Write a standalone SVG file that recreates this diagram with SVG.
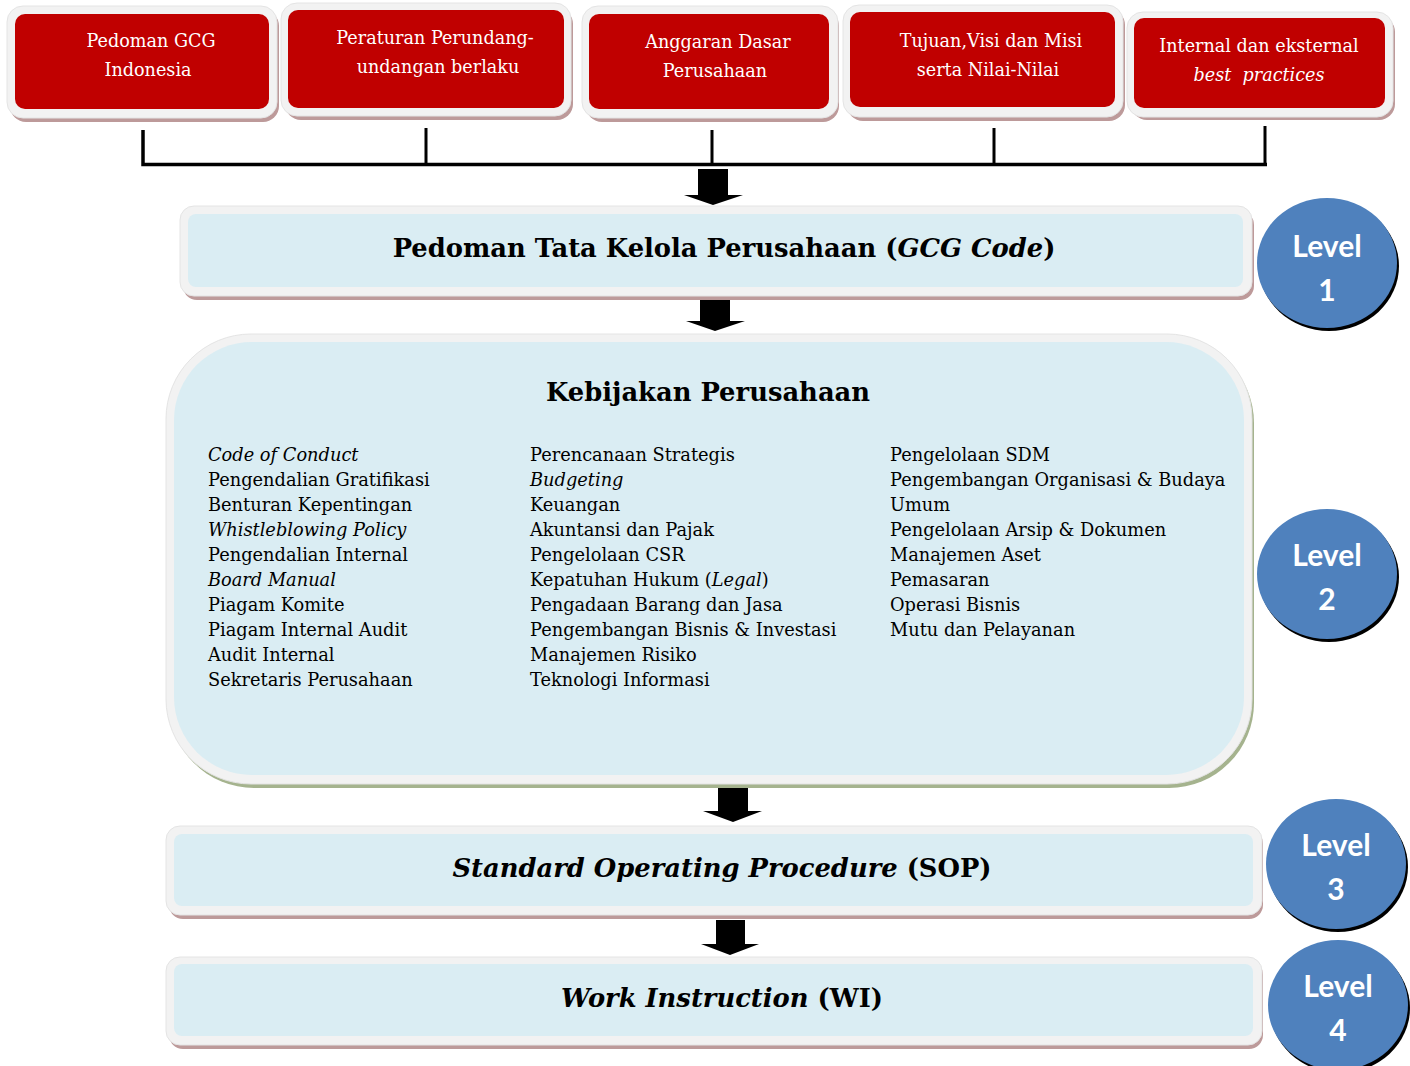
<svg xmlns="http://www.w3.org/2000/svg" width="1410" height="1066" viewBox="0 0 1410 1066">
<style>
.frame{fill:#f2f2f2;stroke:#e4e4e4;stroke-width:1}
.shR{fill:#bd9a9a}
.shG{fill:#a5b38e}
.red{fill:#c00000}
.blue{fill:#daedf3}
.wt{font-family:"DejaVu Serif",serif;font-size:17.6px;fill:#ffffff;text-anchor:middle}
.ttl{font-family:"DejaVu Serif",serif;font-size:25.8px;font-weight:bold;fill:#000;text-anchor:middle}
.lst{font-family:"DejaVu Serif",serif;font-size:17.8px;fill:#000}
.lv{font-family:Lato,"Open Sans",sans-serif;font-size:30px;font-weight:bold;fill:#fff;text-anchor:middle}
.circ{fill:#4f81bd}
.line{stroke:#000;fill:none}
</style>
<rect width="1410" height="1066" fill="#fff"/>

<g id="src1">
<rect class="shR" x="10" y="10" width="269" height="112" rx="16"/>
<rect class="frame" x="7" y="6" width="270" height="112" rx="16"/>
<rect class="red" x="15" y="14" width="254" height="95" rx="10"/>
<text class="wt" x="151" y="47">Pedoman GCG</text>
<text class="wt" x="148" y="76">Indonesia</text>
</g>
<g id="src2">
<rect class="shR" x="285" y="8" width="288" height="112" rx="16"/>
<rect class="frame" x="281" y="3" width="290" height="113" rx="16"/>
<rect class="red" x="288" y="10" width="276" height="98" rx="10"/>
<text class="wt" x="435" y="44">Peraturan Perundang-</text>
<text class="wt" x="438" y="73">undangan berlaku</text>
</g>
<g id="src3">
<rect class="shR" x="586" y="10" width="253" height="112" rx="16"/>
<rect class="frame" x="582" y="6" width="256" height="112" rx="16"/>
<rect class="red" x="589" y="14" width="240" height="95" rx="10"/>
<text class="wt" x="718" y="48">Anggaran Dasar</text>
<text class="wt" x="715" y="77">Perusahaan</text>
</g>
<g id="src4">
<rect class="shR" x="847" y="9" width="278" height="112" rx="16"/>
<rect class="frame" x="843" y="5" width="280" height="112" rx="16"/>
<rect class="red" x="850" y="12" width="265" height="95" rx="10"/>
<text class="wt" x="991" y="47">Tujuan,Visi dan Misi</text>
<text class="wt" x="988" y="76">serta Nilai-Nilai</text>
</g>
<g id="src5">
<rect class="shR" x="1131" y="16" width="264" height="104" rx="16"/>
<rect class="frame" x="1127" y="12" width="266" height="105" rx="16"/>
<rect class="red" x="1134" y="18" width="251" height="90" rx="10"/>
<text class="wt" x="1259" y="52">Internal dan eksternal</text>
<text class="wt" x="1259" y="81" font-style="italic" xml:space="preserve" style="white-space:pre">best  practices</text>
</g>

<g id="connectors">
<path class="line" stroke-width="3.5" d="M143,130 V164.5 H1267"/>
<path class="line" stroke-width="3" d="M426,128 V164 M712,130 V164 M994,128 V164 M1265,126 V164"/>
<path d="M698,169 H728 V195 H743 L713,205 L684,195 H698 Z" fill="#000"/>
<path d="M700,296 H730 V321 H745 L715,331 L686,321 H700 Z" fill="#000"/>
<path d="M718,787 H748 V811 H762 L733,822 L703,811 H718 Z" fill="#000"/>
<path d="M716,920 H745 V944 H759 L730,955 L701,944 H716 Z" fill="#000"/>
</g>

<g id="level1">
<rect class="shR" x="183" y="211" width="1071" height="89" rx="14"/>
<rect class="frame" x="180" y="206" width="1072" height="90" rx="14"/>
<rect class="blue" x="188" y="214" width="1055" height="73" rx="8"/>
<text class="ttl" x="724" y="257">Pedoman Tata Kelola Perusahaan (<tspan font-style="italic">GCG Code</tspan>)</text>
</g>

<g id="level2">
<rect class="shG" x="169" y="338" width="1085" height="450" rx="85"/>
<rect class="frame" x="166" y="334" width="1086" height="450" rx="85"/>
<rect class="blue" x="174" y="342" width="1070" height="433" rx="78"/>
<text class="ttl" x="708" y="401" font-size="26.5">Kebijakan Perusahaan</text>
<text class="lst">
<tspan x="208" y="461" font-style="italic">Code of Conduct</tspan>
<tspan x="208" y="486">Pengendalian Gratifikasi</tspan>
<tspan x="208" y="511">Benturan Kepentingan</tspan>
<tspan x="208" y="536" font-style="italic">Whistleblowing Policy</tspan>
<tspan x="208" y="561">Pengendalian Internal</tspan>
<tspan x="208" y="586" font-style="italic">Board Manual</tspan>
<tspan x="208" y="611">Piagam Komite</tspan>
<tspan x="208" y="636">Piagam Internal Audit</tspan>
<tspan x="208" y="661">Audit Internal</tspan>
<tspan x="208" y="686">Sekretaris Perusahaan</tspan>
</text>
<text class="lst">
<tspan x="530" y="461">Perencanaan Strategis</tspan>
<tspan x="530" y="486" font-style="italic">Budgeting</tspan>
<tspan x="530" y="511">Keuangan</tspan>
<tspan x="530" y="536">Akuntansi dan Pajak</tspan>
<tspan x="530" y="561">Pengelolaan CSR</tspan>
<tspan x="530" y="586">Kepatuhan Hukum (<tspan font-style="italic">Legal</tspan>)</tspan>
<tspan x="530" y="611">Pengadaan Barang dan Jasa</tspan>
<tspan x="530" y="636">Pengembangan Bisnis &amp; Investasi</tspan>
<tspan x="530" y="661">Manajemen Risiko</tspan>
<tspan x="530" y="686">Teknologi Informasi</tspan>
</text>
<text class="lst">
<tspan x="890" y="461">Pengelolaan SDM</tspan>
<tspan x="890" y="486">Pengembangan Organisasi &amp; Budaya</tspan>
<tspan x="890" y="511">Umum</tspan>
<tspan x="890" y="536">Pengelolaan Arsip &amp; Dokumen</tspan>
<tspan x="890" y="561">Manajemen Aset</tspan>
<tspan x="890" y="586">Pemasaran</tspan>
<tspan x="890" y="611">Operasi Bisnis</tspan>
<tspan x="890" y="636">Mutu dan Pelayanan</tspan>
</text>
</g>

<g id="level3">
<rect class="shR" x="169" y="830" width="1094" height="89" rx="14"/>
<rect class="frame" x="166" y="826" width="1096" height="89" rx="14"/>
<rect class="blue" x="174" y="834" width="1079" height="72" rx="8"/>
<text class="ttl" x="722" y="877"><tspan font-style="italic">Standard Operating Procedure</tspan> (SOP)</text>
</g>

<g id="level4">
<rect class="shR" x="169" y="961" width="1094" height="88" rx="14"/>
<rect class="frame" x="166" y="957" width="1096" height="88" rx="14"/>
<rect class="blue" x="174" y="964" width="1079" height="72" rx="8"/>
<text class="ttl" x="722" y="1007"><tspan font-style="italic">Work Instruction</tspan> (WI)</text>
</g>

<g id="badge1">
<ellipse cx="1329" cy="266" rx="70" ry="65" fill="#000"/>
<ellipse class="circ" cx="1327" cy="263" rx="70" ry="65"/>
<text class="lv" x="1327" y="257">Level</text>
<text class="lv" x="1327" y="301">1</text>
</g>
<g id="badge2">
<ellipse cx="1329" cy="577" rx="70" ry="65" fill="#000"/>
<ellipse class="circ" cx="1327" cy="574" rx="70" ry="65"/>
<text class="lv" x="1327" y="566">Level</text>
<text class="lv" x="1327" y="610">2</text>
</g>
<g id="badge3">
<ellipse cx="1338" cy="867" rx="70" ry="65" fill="#000"/>
<ellipse class="circ" cx="1336" cy="864" rx="70" ry="65"/>
<text class="lv" x="1336" y="856">Level</text>
<text class="lv" x="1336" y="900">3</text>
</g>
<g id="badge4">
<ellipse cx="1340" cy="1008" rx="70" ry="65" fill="#000"/>
<ellipse class="circ" cx="1338" cy="1005" rx="70" ry="65"/>
<text class="lv" x="1338" y="997">Level</text>
<text class="lv" x="1338" y="1041">4</text>
</g>
</svg>
